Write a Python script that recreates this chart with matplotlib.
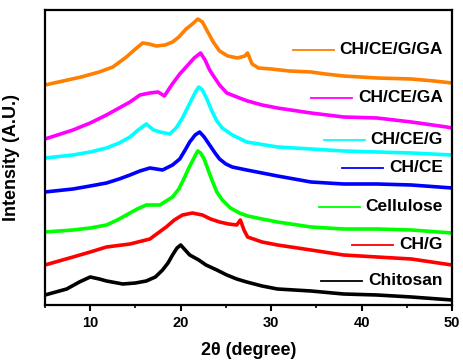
import matplotlib
matplotlib.use("Agg")
import matplotlib.pyplot as plt
from matplotlib.ticker import MultipleLocator

plt.rcParams['font.family'] = ['Liberation Sans', 'DejaVu Sans']
plt.rcParams['font.weight'] = 'bold'

# ---- data (2theta in degrees, intensity in arbitrary stacked units) ----
ga_x = [5, 7, 9, 11, 12.5, 14, 15, 15.8, 16.5, 17.3, 18.3, 19.1, 19.8, 20.6, 21.3, 21.9, 22.4, 23.0, 23.6, 24.3, 25.2, 26.3, 27.1, 27.4, 27.9, 28.6, 30, 32, 34.4, 36, 38, 41.7, 45.5, 48, 50]
ga_y = [220, 224, 228, 233, 238, 248, 256, 262, 261, 259, 260, 263, 268, 276, 281, 286, 283, 273, 263, 254, 249, 247, 249, 252, 241, 237, 236, 234, 233, 231, 229, 227, 226, 224, 222]

cega_x = [5, 8.1, 10, 11.8, 13.2, 14.4, 15.5, 16.6, 17.5, 18.2, 19.0, 19.9, 20.6, 21.5, 22.2, 22.7, 23.2, 23.7, 24.3, 25.1, 26.5, 27.4, 29, 30.7, 34.4, 38, 41.7, 45.5, 49.4, 50]
cega_y = [166, 175, 182, 190, 197, 203, 210, 212, 213, 209, 220, 231, 238, 247, 252, 245, 235, 228, 220, 212, 207, 204, 200, 197, 192, 188, 187, 183, 178, 177]

ceg_x = [5, 8.1, 10, 11.8, 13.2, 14.4, 15.3, 16.2, 17.0, 17.7, 18.8, 19.5, 20.2, 20.8, 21.3, 21.7, 22.0, 22.4, 22.9, 23.4, 24.0, 24.6, 25.7, 27.3, 30.7, 34.4, 38, 41.7, 45.5, 50]
ceg_y = [147, 150, 153, 157, 162, 168, 175, 181, 175, 173, 171, 177, 187, 198, 207, 214, 218, 215, 206, 195, 184, 177, 170, 163, 158, 156, 154, 153, 152, 150]

ce_x = [5, 8.1, 10, 11.8, 13.2, 14.4, 15.5, 16.6, 18.0, 19.1, 19.9, 20.5, 21.0, 21.6, 22.1, 22.6, 23.2, 23.8, 24.3, 25.0, 25.7, 27.3, 29, 30.7, 34.4, 38, 41.7, 45.5, 50]
ce_y = [113, 116, 119, 122, 126, 130, 134, 137, 135, 140, 146, 155, 163, 170, 173, 168, 160, 152, 146, 141, 138, 135, 132, 129, 123, 121, 121, 120, 117]

cel_x = [5, 8.1, 10, 11.8, 13, 14.0, 15.2, 16.2, 17.7, 19.1, 19.8, 20.4, 20.9, 21.3, 21.7, 21.9, 22.2, 22.6, 23.0, 23.5, 24.0, 24.6, 25.5, 26.5, 27.4, 29, 30.7, 34.4, 38, 41.7, 45.5, 50]
cel_y = [73, 75, 77, 80, 85, 90, 96, 100, 100, 108, 116, 127, 137, 144, 151, 154, 152, 146, 136, 124, 113, 105, 97, 92, 89, 86, 83, 78, 76, 76, 75, 72]

chg_x = [5, 8.1, 10, 11.8, 14.4, 16.6, 17.5, 18.4, 19.3, 20.2, 21.3, 22.4, 23.3, 24.3, 25.3, 26.2, 26.6, 27.0, 27.4, 29, 30.7, 34.4, 38, 41.7, 45.5, 50]
chg_y = [40, 48, 53, 58, 61, 66, 72, 78, 85, 90, 92, 90, 86, 83, 81, 80, 85, 75, 68, 63, 60, 55, 50, 48, 46, 40]

chi_x = [5, 7.4, 8.8, 10, 11.0, 11.8, 13.6, 15.0, 16.2, 17.2, 18, 18.6, 19.1, 19.6, 20, 20.5, 21, 22, 22.8, 24, 25.1, 26.2, 27.3, 29, 30.7, 34.4, 38, 41.7, 45.5, 50]
chi_y = [10, 16, 23, 28, 26, 24, 21, 22, 24, 28, 35, 42, 50, 57, 60, 55, 50, 45, 40, 35, 30, 26, 23, 19, 16, 14, 11, 10, 8, 5]

labels = ['CH/CE/G/GA', 'CH/CE/GA', 'CH/CE/G', 'CH/CE', 'Cellulose', 'CH/G', 'Chitosan']
colors = ['#FF7F00', '#FF00FF', '#00FFFF', '#0000FF', '#00FF00', '#FF0000', '#000000']
label_y = [255, 207, 165, 137, 98, 60, 24]

series = [(ga_x, ga_y), (cega_x, cega_y), (ceg_x, ceg_y), (ce_x, ce_y),
          (cel_x, cel_y), (chg_x, chg_y), (chi_x, chi_y)]

fig = plt.figure(figsize=(4.63, 3.63), dpi=100)
ax = fig.add_axes([0.0972, 0.1598, 0.8790, 0.8127])

for (xs, ys), c in zip(series, colors):
    ax.plot(xs, ys, color=c, lw=2.6, solid_joinstyle='round')

ax.set_xlim(5, 50)
ax.set_ylim(0, 295)
ax.xaxis.set_major_locator(MultipleLocator(10))
ax.xaxis.set_minor_locator(MultipleLocator(5))
ax.set_yticks([])
ax.tick_params(axis='x', which='major', direction='out', length=4, width=1.5,
               labelsize=10.5, pad=4)
ax.tick_params(axis='x', which='minor', direction='out', length=2.5, width=1.2)
for lab in ax.get_xticklabels():
    lab.set_fontweight('bold')
for s in ax.spines.values():
    s.set_linewidth(1.6)

ax.set_xlabel('2θ (degree)', fontsize=13, fontweight='bold')
ax.set_ylabel('Intensity (A.U.)', fontsize=13, fontweight='bold')
ax.xaxis.set_label_coords(0.5, -0.125)
ax.yaxis.set_label_coords(-0.062, 0.5)

# labels with short line segments
fig.canvas.draw()
renderer = fig.canvas.get_renderer()
x_right = 49.0
for lab, c, yl in zip(labels, colors, label_y):
    t = ax.text(x_right, yl, lab, ha='right', va='center', fontsize=12.5,
                fontweight='bold', color='black')
    bb = t.get_window_extent(renderer=renderer)
    inv = ax.transData.inverted()
    x0 = inv.transform((bb.x0 - 6, 0))[0]
    x1 = inv.transform((bb.x0 - 47, 0))[0]
    ax.plot([x1, x0], [yl, yl], color=c, lw=1.3)

fig.savefig('out.png', dpi=100)
